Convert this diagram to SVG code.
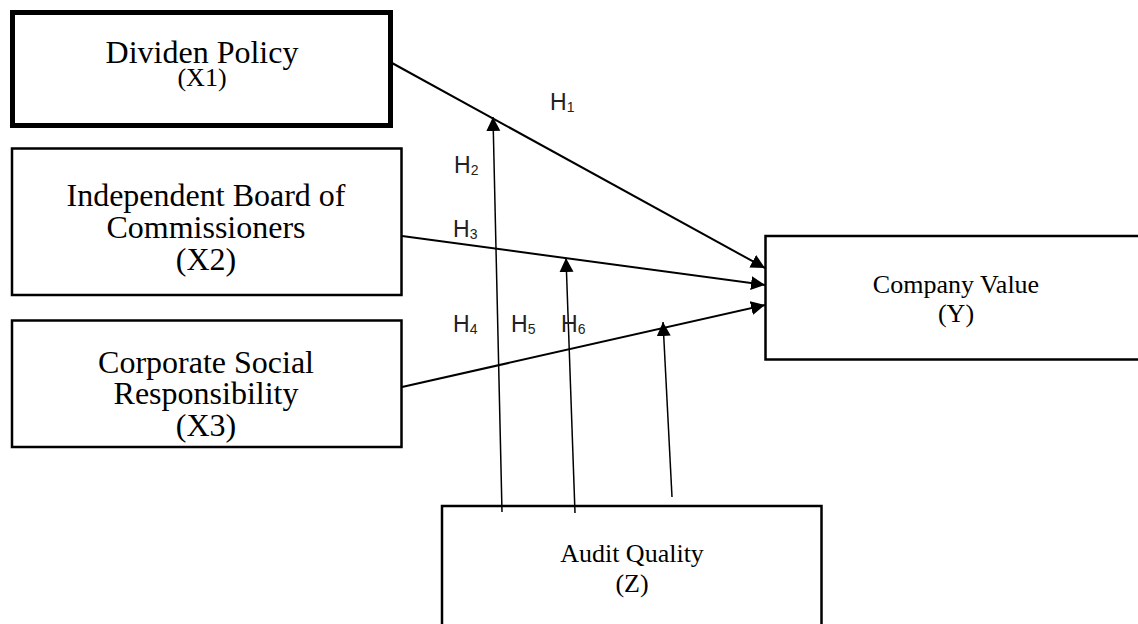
<svg xmlns="http://www.w3.org/2000/svg" width="1138" height="624" viewBox="0 0 1138 624">
<style>
.box{fill:#fff;stroke:#000;stroke-width:2.5}
.thick{stroke-width:5}
.t{font-family:"Liberation Serif","Times New Roman",serif;fill:#000;text-anchor:middle}
.big{font-size:32px}
.mid{font-size:26px}
.h{font-family:"Liberation Sans",Arial,sans-serif;font-size:23px;fill:#222}
.sub{font-size:14px}
.c{stroke:#000;fill:none;stroke-width:2}
.v{stroke:#000;fill:none;stroke-width:1.5}
</style>
<defs>
<marker id="ah" markerUnits="userSpaceOnUse" markerWidth="15" markerHeight="15" refX="14" refY="7" orient="auto">
<path d="M0,0 L14,7 L0,14 z" fill="#000"/>
</marker>
</defs>
<rect width="1138" height="624" fill="#fff"/>
<g id="x1">
<rect class="box thick" x="12.5" y="12.5" width="378" height="113"/>
<text class="t big" x="202" y="63">Dividen Policy</text>
<text class="t mid" x="202" y="86">(X1)</text>
</g>
<g id="x2">
<rect class="box" x="12" y="148.5" width="389.5" height="146.5"/>
<text class="t big" x="206" y="206">Independent Board of</text>
<text class="t big" x="206" y="238">Commissioners</text>
<text class="t big" x="206" y="270">(X2)</text>
</g>
<g id="x3">
<rect class="box" x="12" y="320.5" width="389.5" height="126.5"/>
<text class="t big" x="206" y="373">Corporate Social</text>
<text class="t big" x="206" y="404">Responsibility</text>
<text class="t big" x="206" y="436">(X3)</text>
</g>
<g id="y">
<rect class="box" x="765.5" y="236" width="382" height="123.5"/>
<text class="t mid" x="956" y="293">Company Value</text>
<text class="t mid" x="956" y="322">(Y)</text>
</g>
<g id="z">
<rect class="box" x="442" y="506" width="379.5" height="130"/>
<text class="t mid" x="632" y="562">Audit Quality</text>
<text class="t mid" x="632" y="592">(Z)</text>
</g>
<g id="connectors">
<line class="c" x1="392" y1="63" x2="765" y2="268" marker-end="url(#ah)"/>
<line class="c" x1="402" y1="236" x2="765" y2="285" marker-end="url(#ah)"/>
<line class="c" x1="402" y1="387" x2="765" y2="305" marker-end="url(#ah)"/>
<line class="v" x1="502" y1="512" x2="493" y2="117" marker-end="url(#ah)"/>
<line class="v" x1="575" y1="513" x2="566" y2="258" marker-end="url(#ah)"/>
<line class="v" x1="672" y1="497" x2="663" y2="322" marker-end="url(#ah)"/>
</g>
<g id="labels">
<text class="h" x="550" y="110">H<tspan class="sub" dy="2">1</tspan></text>
<text class="h" x="454" y="173">H<tspan class="sub" dy="2">2</tspan></text>
<text class="h" x="453" y="237">H<tspan class="sub" dy="2">3</tspan></text>
<text class="h" x="453" y="332">H<tspan class="sub" dy="2">4</tspan></text>
<text class="h" x="511" y="332">H<tspan class="sub" dy="2">5</tspan></text>
<text class="h" x="561" y="332">H<tspan class="sub" dy="2">6</tspan></text>
</g>
</svg>
